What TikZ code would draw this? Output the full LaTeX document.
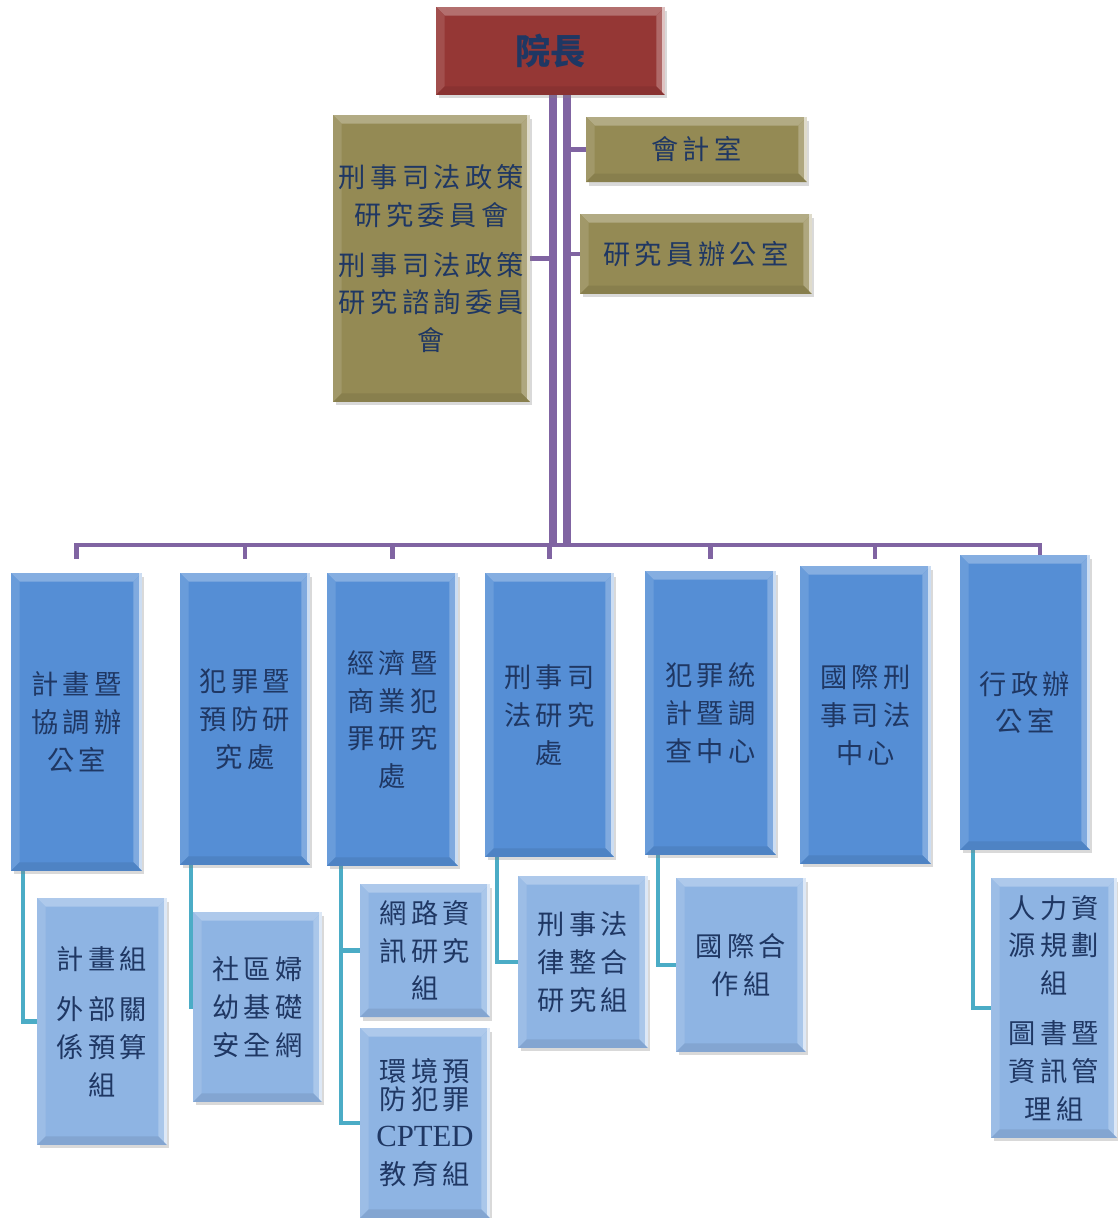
\documentclass[tikz,border=0pt]{standalone}
\usepackage{fontspec}
\newfontfamily\cjk[LetterSpace=16]{Noto Sans CJK TC}
\newfontfamily\cjktop{Noto Sans CJK TC}
\newfontfamily\latserif{Liberation Serif}
\usetikzlibrary{shadows,backgrounds}
\definecolor{chiefred}{HTML}{953735}
\definecolor{olivebox}{HTML}{948A54}
\definecolor{unitblue}{HTML}{558ED5}
\definecolor{subblue}{HTML}{8EB4E3}
\definecolor{trunkpurple}{HTML}{8064A2}
\definecolor{linkteal}{HTML}{4BACC6}
\definecolor{navytext}{HTML}{1F3763}
\tikzset{
  bevel/.style={fill=#1, inner sep=0pt, outer sep=0pt, align=center,
    text=navytext, font=\cjk\fontsize{15.5}{21.5}\selectfont,
    drop shadow={opacity=0.3, shadow xshift=0.05cm, shadow yshift=-0.07cm},
    path picture={
      \fill[#1!72!white] (path picture bounding box.north west) -- (path picture bounding box.north east)
        -- ([shift={(-0.17cm,-0.17cm)}]path picture bounding box.north east)
        -- ([shift={(0.17cm,-0.17cm)}]path picture bounding box.north west) -- cycle;
      \fill[#1!88!white] (path picture bounding box.north west) -- ([shift={(0.17cm,-0.17cm)}]path picture bounding box.north west)
        -- ([shift={(0.17cm,0.17cm)}]path picture bounding box.south west) -- (path picture bounding box.south west) -- cycle;
      \fill[#1!75!white] (path picture bounding box.north east) -- ([shift={(-0.17cm,-0.17cm)}]path picture bounding box.north east)
        -- ([shift={(-0.17cm,0.17cm)}]path picture bounding box.south east) -- (path picture bounding box.south east) -- cycle;
      \fill[white, opacity=0.6] ([xshift=-0.06cm]path picture bounding box.north east) rectangle (path picture bounding box.south east);
      \fill[#1!92!black] (path picture bounding box.south west) -- ([shift={(0.17cm,0.17cm)}]path picture bounding box.south west)
        -- ([shift={(-0.17cm,0.17cm)}]path picture bounding box.south east) -- (path picture bounding box.south east) -- cycle;
    }},
  trunk/.style={draw=trunkpurple, line width=5pt},
  bus/.style={draw=trunkpurple, line width=2.8pt},
  link/.style={draw=linkteal, line width=2.8pt},
}
\begin{document}
\begin{tikzpicture}[x=0.02cm, y=-0.02cm]
\useasboundingbox (0,0) rectangle (1117,1218);
% head and staff offices
\node[bevel=chiefred, minimum width=4.58cm, minimum height=1.76cm, font=\cjktop\bfseries\fontsize{20}{24}\selectfont] (ceo) at (550.5,51) {院長};
\node[bevel=olivebox, minimum width=3.94cm, minimum height=5.74cm] (panel) at (431.5,258.5)
  {刑事司法政策\\研究委員會\\[7pt]刑事司法政策\\研究諮詢委員\\會};
\node[bevel=olivebox, minimum width=4.42cm, minimum height=1.30cm] (acc) at (696.5,149.5) {會計室};
\node[bevel=olivebox, minimum width=4.64cm, minimum height=1.60cm] (res) at (696,254) {研究員辦公室};
% departments
\node[bevel=unitblue, minimum width=2.62cm, minimum height=5.96cm] (b1) at (76.5,722) {計畫暨\\協調辦\\公室};
\node[bevel=unitblue, minimum width=2.60cm, minimum height=5.84cm] (b2) at (245,719) {犯罪暨\\預防研\\究處};
\node[bevel=unitblue, minimum width=2.62cm, minimum height=5.86cm] (b3) at (392.5,719.5) {經濟暨\\商業犯\\罪研究\\處};
\node[bevel=unitblue, minimum width=2.58cm, minimum height=5.68cm] (b4) at (549.5,715) {刑事司\\法研究\\處};
\node[bevel=unitblue, minimum width=2.62cm, minimum height=5.68cm] (b5) at (710.5,713) {犯罪統\\計暨調\\查中心};
\node[bevel=unitblue, minimum width=2.62cm, minimum height=5.96cm] (b6) at (865.5,715) {國際刑\\事司法\\中心};
\node[bevel=unitblue, minimum width=2.60cm, minimum height=5.90cm] (b7) at (1025,702.5) {行政辦\\公室};
% sections
\node[bevel=subblue, minimum width=2.60cm, minimum height=4.94cm] (s1) at (102,1021.5) {計畫組\\[7pt]外部關\\係預算\\組};
\node[bevel=subblue, minimum width=2.58cm, minimum height=3.80cm] (s2) at (257.5,1007) {社區婦\\幼基礎\\安全網};
\node[bevel=subblue, minimum width=2.60cm, minimum height=2.66cm] (s3a) at (425,950.5) {網路資\\訊研究\\組};
\node[bevel=subblue, minimum width=2.60cm, minimum height=3.80cm] (s3b) at (425,1123)
  {環境預\\[-6pt]防犯罪\\{\latserif\fontsize{17.5}{21}\selectfont CPTED}\\教育組};
\node[bevel=subblue, minimum width=2.60cm, minimum height=3.44cm] (s4) at (583,962) {刑事法\\律整合\\研究組};
\node[bevel=subblue, minimum width=2.60cm, minimum height=3.48cm] (s5) at (741,965) {國際合\\作組};
\node[bevel=subblue, minimum width=2.52cm, minimum height=5.20cm] (s7) at (1054,1008)
  {人力資\\源規劃\\組\\[7pt]圖書暨\\資訊管\\理組};
% connectors
\begin{scope}[on background layer]
\coordinate (busy) at (0,545);
\coordinate (tl) at ([xshift=0.05cm]ceo.south);
\coordinate (tr) at ([xshift=0.33cm]ceo.south);
\draw[trunk] (tl) -- (tl |- busy);
\draw[trunk] (tr) -- (tr |- busy);
\draw[bus] (panel.east) -- (panel.east -| tl);
\draw[bus] (acc.west) -- (acc.west -| tr);
\draw[bus] (res.west) -- (res.west -| tr);
\draw[bus] ([yshift=-0.28cm]b1.north |- busy) -- (b1.north |- busy) -- ([xshift=0.3cm]b7.north |- busy) -- ([xshift=0.3cm]b7.north);
\foreach \n in {b2,b3,b4,b5}
  \draw[bus] (\n.north |- busy) -- ++(0,14);
\draw[bus] ([xshift=0.19cm]b6.north |- busy) -- ++(0,14);
\draw[link] ([xshift=0.24cm]b1.south west) |- (s1.west);
\draw[link] ([xshift=0.22cm]b2.south west) |- (s2.west);
\draw[link] ([xshift=0.28cm]b3.south west) |- (s3b.west);
\draw[link] (s3a.west) -| ([xshift=0.28cm]b3.south west);
\draw[link] ([xshift=0.24cm]b4.south west) |- (s4.west);
\draw[link] ([xshift=0.26cm]b5.south west) |- (s5.west);
\draw[link] ([xshift=0.26cm]b7.south west) |- (s7.west);
\end{scope}
\end{tikzpicture}
\end{document}
